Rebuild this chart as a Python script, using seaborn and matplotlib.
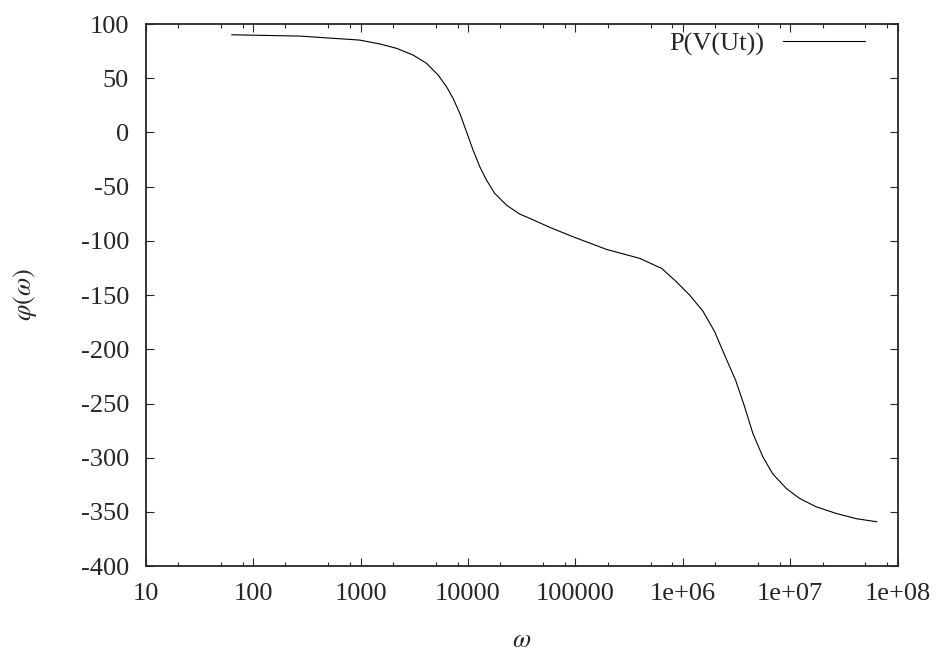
import numpy as np
import pandas as pd
import matplotlib
matplotlib.use("Agg")
import matplotlib.pyplot as plt
import matplotlib.ticker as mticker
import seaborn as sns

# values (frequency, phase in degrees)
omega = [63.1, 272.3, 984, 1514, 2163, 3083, 4111, 5272, 6310, 7261,
         8395, 9683, 11143, 12882, 14859, 17742, 22803, 30339, 37584,
         57677, 95060, 194089, 396278, 635291, 870964, 1.156e6, 1.538e6,
         1.977e6, 2.449e6, 3.097e6, 3.758e6, 4.487e6, 5.559e6, 6.887e6,
         9.183e6, 1.222e7, 1.746e7, 2.679e7, 4.111e7, 6.397e7]
phi = [90.1, 88.9, 85.2, 81.6, 77.6, 71.4, 63.8, 53.0, 42.2, 31.5,
       17.6, 0.7, -16.2, -31.6, -43.9, -56.2, -67.0, -75.3, -79.2,
       -87.5, -96.2, -107.8, -116.1, -125.4, -137.7, -150.0, -164.8,
       -183.7, -205.4, -228.4, -253.0, -277.6, -299.2, -315.1,
       -328.3, -337.6, -345.3, -351.4, -356.2, -359.1]

xticks = [10, 100, 1000, 10000, 100000, 1e6, 1e7, 1e8]
xtick_labels = ["10", "100", "1000", "10000", "100000", "1e+06", "1e+07", "1e+08"]
yticks = [100, 50, 0, -50, -100, -150, -200, -250, -300, -350, -400]

df = pd.DataFrame({"omega": omega, "phi": phi})

sns.set_style("ticks")
plt.rcParams["font.family"] = ["Liberation Serif", "DejaVu Serif"]
plt.rcParams["mathtext.fontset"] = "stix"

fig = plt.figure(figsize=(9.4, 6.5), dpi=100)
ax = fig.add_axes([0.155, 0.129, 0.8, 0.834])

sns.lineplot(data=df, x="omega", y="phi", color="black", linewidth=0.8,
             sort=False, estimator=None, label="P(V(Ut))", ax=ax)

ax.set_xscale("log")
ax.set_xlim(10, 1e8)
ax.set_ylim(-400, 100)
ax.xaxis.set_major_locator(mticker.FixedLocator(xticks))
ax.xaxis.set_major_formatter(mticker.FixedFormatter(xtick_labels))
ax.xaxis.set_minor_locator(mticker.LogLocator(base=10, subs=[2, 5, 8], numticks=20))
ax.xaxis.set_minor_formatter(mticker.NullFormatter())
ax.set_yticks(yticks)
ax.set_yticklabels([str(v) for v in yticks])

for s in ax.spines.values():
    s.set_linewidth(1.3)
    s.set_visible(True)
ax.tick_params(which="major", direction="in", length=6, width=0.8,
               top=True, right=True, labelsize=19, pad=12)
ax.tick_params(which="minor", direction="in", length=3, width=0.8,
               top=True, right=True)

ax.set_xlabel(r"$\omega$", fontsize=19, labelpad=18)
ax.set_ylabel(r"$\varphi(\omega)$", fontsize=19, labelpad=30)

ax.legend(loc="upper right", bbox_to_anchor=(0.956, 0.985), frameon=False,
          fontsize=19, markerfirst=False, handlelength=3.1,
          handletextpad=0.7, borderpad=0, borderaxespad=0)

fig.savefig("out.png", dpi=100)
